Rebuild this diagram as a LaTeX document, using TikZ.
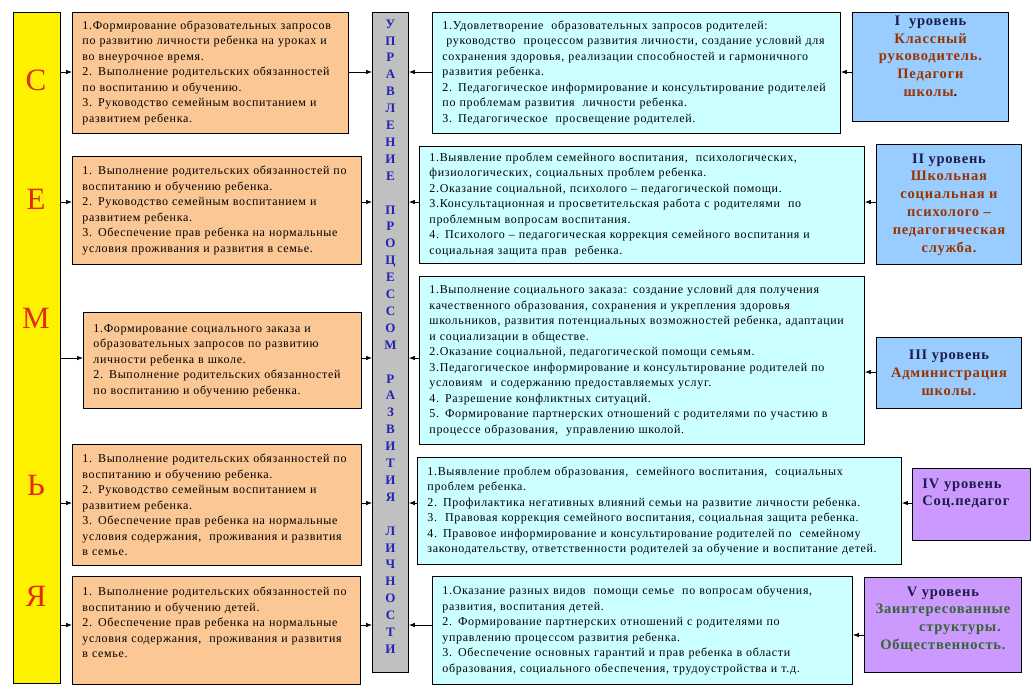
\documentclass[tikz,border=0pt]{standalone}
\usepackage{fontspec}
\setmainfont[LetterSpace=5.5]{Liberation Serif}
\usetikzlibrary{arrows.meta,positioning}

\definecolor{famfill}{HTML}{FBC794}
\definecolor{schfill}{HTML}{CCFFFF}
\definecolor{levblue}{HTML}{99CCFF}
\definecolor{levviolet}{HTML}{CC99FF}
\definecolor{uprgray}{HTML}{C0C0C0}
\definecolor{semred}{HTML}{E42A12}
\definecolor{uprblue}{HTML}{2323B4}
\definecolor{levhead}{HTML}{1C1C48}
\definecolor{levbrown}{HTML}{993300}
\definecolor{levgreen}{HTML}{336633}

\begin{document}
\begin{tikzpicture}[x=1pt, y=-1pt,
    fambox/.style={draw, line width=0.9pt, fill=famfill, anchor=north west, inner xsep=10pt, align=left, font=\fontsize{12}{15.5}\selectfont},
    schbox/.style={draw, line width=0.9pt, fill=schfill, anchor=north west, inner xsep=10pt, align=left, font=\fontsize{12}{15.5}\selectfont},
    levbox/.style={draw, line width=0.9pt, anchor=north west, align=center, text=levbrown, font=\bfseries\fontsize{14.5}{17.8}\selectfont},
    semletter/.style={text=semred, font=\fontsize{31}{31}\selectfont},
    arr/.style={-{Latex[length=6pt,width=4.5pt]}, line width=0.7pt}
]
\useasboundingbox (0,0) rectangle (1033,697);
\fill[white] (0,0) rectangle (1033,697);

% семья
\node[draw, line width=0.9pt, fill=yellow, anchor=north west, minimum width=47pt, minimum height=671pt] (sem) at (13,12) {};
\node[semletter] (s1) at (36,80) {С};
\node[semletter] (s2) at (36,199) {Е};
\node[semletter] (s3) at (36,318) {М};
\node[semletter] (s4) at (36,485) {Ь};
\node[semletter] (s5) at (36,596) {Я};

% obligations of the family
\node[fambox, text width=256pt, minimum height=121pt] (fam1) at (72,12) {1.Формирование образовательных запросов\\по развитию личности ребенка на уроках и\\во внеурочное время.\\2. Выполнение родительских обязанностей\\по воспитанию и обучению.\\3. Руководство семейным воспитанием и\\развитием ребенка.};
\node[fambox, text width=269pt, minimum height=108pt] (fam2) at (72,156) {1. Выполнение родительских обязанностей по\\воспитанию и обучению ребенка.\\2. Руководство семейным воспитанием и\\развитием ребенка.\\3. Обеспечение прав ребенка на нормальные\\условия проживания и развития в семье.};
\node[fambox, text width=258pt, minimum height=96pt] (fam3) at (83,312) {1.Формирование социального заказа и\\образовательных запросов по развитию\\личности ребенка в школе.\\2. Выполнение родительских обязанностей\\по воспитанию и обучению ребенка.};
\node[fambox, text width=269pt, minimum height=121pt] (fam4) at (72,444) {1. Выполнение родительских обязанностей по\\воспитанию и обучению ребенка.\\2. Руководство семейным воспитанием и\\развитием ребенка.\\3. Обеспечение прав ребенка на нормальные\\условия содержания,\ \ проживания и развития\\в семье.};
\node[fambox, text width=268pt, minimum height=108pt] (fam5) at (72,576) {1. Выполнение родительских обязанностей по\\воспитанию и обучению детей.\\2. Обеспечение прав ребенка на нормальные\\условия содержания,\ \ проживания и развития\\в семье.\\[0.5pt]\mbox{}};

% управление процессом развития личности
\node[draw, line width=0.9pt, fill=uprgray, anchor=north west, minimum width=36pt, minimum height=660pt, inner sep=0pt, align=center, text=uprblue, font=\bfseries\fontsize{13}{16.9}\selectfont] (upr) at (372,12)
  {У\\П\\Р\\А\\В\\Л\\Е\\Н\\И\\Е\\~\\П\\Р\\О\\Ц\\Е\\С\\С\\О\\М\\~\\Р\\А\\З\\В\\И\\Т\\И\\Я\\~\\Л\\И\\Ч\\Н\\О\\С\\Т\\И\\[-5pt]\mbox{}};

% work of the school
\node[schbox, text width=388pt, minimum height=121pt] (sch1) at (432,12) {1.Удовлетворение\ \ образовательных запросов родителей:\\\ руководство\ \ процессом развития личности, создание условий для\\сохранения здоровья, реализации способностей и гармоничного\\развития ребенка.\\2. Педагогическое информирование и консультирование родителей\\по проблемам развития\ \ личности ребенка.\\3. Педагогическое\ \ просвещение родителей.};
\node[schbox, text width=425pt, minimum height=117pt] (sch2) at (419,146) {1.Выявление проблем семейного воспитания,\ \ психологических,\\физиологических, социальных проблем ребенка.\\2.Оказание социальной, психолого – педагогической помощи.\\3.Консультационная и просветительская работа с родителями\ \ по\\проблемным вопросам воспитания.\\4. Психолого – педагогическая коррекция семейного воспитания и\\социальная защита прав\ \ ребенка.};
\node[schbox, text width=425pt, minimum height=168pt] (sch3) at (419,276) {1.Выполнение социального заказа: создание условий для получения\\качественного образования, сохранения и укрепления здоровья\\школьников, развития потенциальных возможностей ребенка, адаптации\\и социализации в обществе.\\2.Оказание социальной, педагогической помощи семьям.\\3.Педагогическое информирование и консультирование родителей по\\условиям\ \ и содержанию предоставляемых услуг.\\4. Разрешение конфликтных ситуаций.\\5. Формирование партнерских отношений с родителями по участию в\\процессе образования,\ \ управлению школой.};
\node[schbox, text width=464pt, minimum height=107pt] (sch4) at (417,457) {1.Выявление проблем образования,\ \ семейного воспитания,\ \ социальных\\проблем ребенка.\\2. Профилактика негативных влияний семьи на развитие личности ребенка.\\3.\ \ Правовая коррекция семейного воспитания, социальная защита ребенка.\\4. Правовое информирование и консультирование родителей по\ \ семейному\\законодательству, ответственности родителей за обучение и воспитание детей.};
\node[schbox, text width=400pt, minimum height=108pt] (sch5) at (432,576) {1.Оказание разных видов\ \ помощи семье\ \ по вопросам обучения,\\развития, воспитания детей.\\2. Формирование партнерских отношений с родителями по\\управлению процессом развития ребенка.\\3. Обеспечение основных гарантий и прав ребенка в области\\образования, социального обеспечения, трудоустройства и т.д.};

% уровни
\node[levbox, fill=levblue, minimum width=156pt, minimum height=108pt, text depth=22pt] (lev1) at (852,12) {{\color{levhead}I\ \ уровень}\\Классный\\руководитель.\\Педагоги\\школы{\color{levhead}.}};
\node[levbox, fill=levblue, minimum width=145pt, minimum height=120pt] (lev2) at (876,144) {{\color{levhead}II уровень}\\Школьная\\социальная и\\психолого –\\педагогическая\\служба.};
\node[levbox, fill=levblue, minimum width=145pt, minimum height=71pt] (lev3) at (876,337) {{\color{levhead}III уровень}\\Администрация\\школы.};
\node[levbox, fill=levviolet, minimum height=72pt, text width=98pt, inner xsep=10pt, align=left, text=levhead, font=\bfseries\fontsize{14.5}{17}\selectfont, text depth=41pt] (lev4) at (912,468) {IV\ уровень\\Соц.педагог};
\node[levbox, fill=levviolet, minimum width=157pt, minimum height=95pt, text=levgreen, text depth=14pt] (lev5) at (864,577) {{\color{levhead}V\ уровень}\\Заинтересованные\\\hspace*{34pt}структуры.\\Общественность.};

% rows of arrows
\coordinate (r1) at (0,72);
\coordinate (r2) at (0,202);
\coordinate (r3) at (0,358);
\coordinate (r4) at (0,503);
\coordinate (r5) at (0,625);
\coordinate (q3) at (0,372);
\coordinate (q5) at (0,635);

\draw[arr] (sem.east |- r1) -- (fam1.west |- r1);
\draw[arr] (sem.east |- r2) -- (fam2.west |- r2);
\draw[arr] (sem.east |- r3) -- (fam3.west |- r3);
\draw[arr] (sem.east |- r4) -- (fam4.west |- r4);
\draw[arr] (sem.east |- r5) -- (fam5.west |- r5);

\draw[arr] (fam1.east |- r1) -- (upr.west |- r1);
\draw[arr] (fam2.east |- r2) -- (upr.west |- r2);
\draw[arr] (fam3.east |- r3) -- (upr.west |- r3);
\draw[arr] (fam4.east |- r4) -- (upr.west |- r4);
\draw[arr] (fam5.east |- r5) -- (upr.west |- r5);

\draw[arr] (sch1.west |- r1) -- (upr.east |- r1);
\draw[arr] (sch2.west |- r2) -- (upr.east |- r2);
\draw[arr] (sch3.west |- r3) -- (upr.east |- r3);
\draw[arr] (sch4.west |- r4) -- (upr.east |- r4);
\draw[arr] (sch5.west |- r5) -- (upr.east |- r5);

\draw[arr] (lev1.west |- r1) -- (sch1.east |- r1);
\draw[arr] (lev2.west |- r2) -- (sch2.east |- r2);
\draw[arr] (lev3.west |- q3) -- (sch3.east |- q3);
\draw[arr] (lev4.west |- r4) -- (sch4.east |- r4);
\draw[arr] (lev5.west |- q5) -- (sch5.east |- q5);
\end{tikzpicture}
\end{document}
